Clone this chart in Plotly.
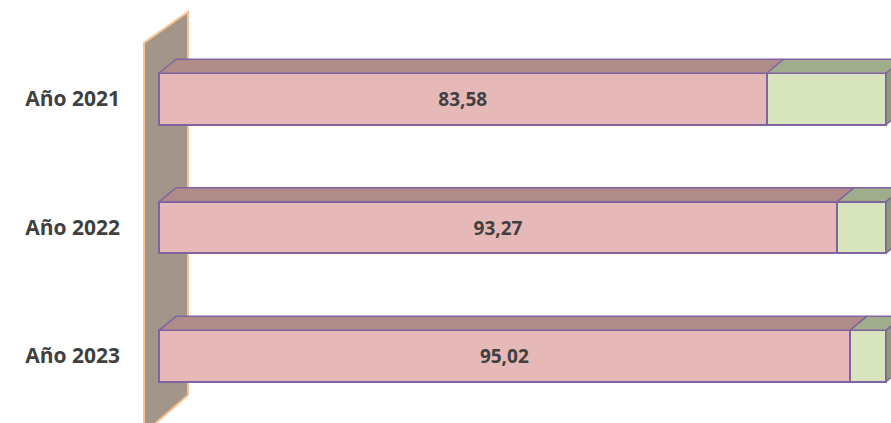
import plotly.graph_objects as go

# ---- data ----
categories = ["Año 2021", "Año 2022", "Año 2023"]
values_main = [83.58, 93.27, 95.02]
values_rest = [16.42, 6.73, 4.98]

# ---- style / geometry constants ----
PINK = "#E6B8B7"
PINK_TOP = "#B08C88"
GREEN = "#D7E4BD"
GREEN_TOP = "#A0AD8C"
GREEN_SIDE = "#8E9B7A"
EDGE = "#8064A2"
WALL = "#A29589"
WALL_EDGE = "#FAC090"
FONT = "Open Sans"
BAR_W = 0.40
DX = 2.34      # depth offset in x units
DY = -0.109    # depth offset in y units (upward)
XR = [-3.301, 100.688]
YR = [2.521, -0.770]

ypos = list(range(len(categories)))
fig = go.Figure()

# back wall (drawn below all traces)
wall_x = [-2.063, 3.989, 3.989, -2.063]
wall_y = [-0.436, -0.677, 2.304, 2.60]
path = "M " + " L ".join(f"{x},{y}" for x, y in zip(wall_x, wall_y)) + " Z"
fig.add_shape(type="path", path=path, xref="x", yref="y", layer="below",
              fillcolor=WALL, line=dict(color=WALL_EDGE, width=2))

# 3D top and side faces derived from values
for i, (a, b) in enumerate(zip(values_main, values_rest)):
    yt = ypos[i] - BAR_W / 2
    yb = ypos[i] + BAR_W / 2
    segs = [(0, a, PINK_TOP), (a, a + b, GREEN_TOP)]
    for x0, x1, col in segs:
        fig.add_trace(go.Scatter(
            x=[x0, x1, x1 + DX, x0 + DX, x0], y=[yt, yt, yt + DY, yt + DY, yt],
            mode="lines", fill="toself", fillcolor=col,
            line=dict(color=EDGE, width=1.5), hoverinfo="skip", showlegend=False))
    xe = a + b
    fig.add_trace(go.Scatter(
        x=[xe, xe + DX, xe + DX, xe, xe], y=[yt, yt + DY, yb + DY, yb, yt],
        mode="lines", fill="toself", fillcolor=GREEN_SIDE,
        line=dict(color=EDGE, width=1.5), hoverinfo="skip", showlegend=False))

labels = [f"{v:.2f}".replace(".", ",") for v in values_main]
fig.add_trace(go.Bar(y=ypos, x=values_main, orientation="h", width=BAR_W,
                     marker=dict(color=PINK, line=dict(color=EDGE, width=2)),
                     text=labels, textposition="inside", insidetextanchor="middle",
                     textfont=dict(family=FONT, size=19, color="#404040", weight="bold"),
                     hoverinfo="skip", showlegend=False))
fig.add_trace(go.Bar(y=ypos, x=values_rest, orientation="h", width=BAR_W,
                     marker=dict(color=GREEN, line=dict(color=EDGE, width=2)),
                     hoverinfo="skip", showlegend=False))

fig.update_layout(
    barmode="stack", width=891, height=423,
    margin=dict(l=135, r=0, t=0, b=0),
    plot_bgcolor="white", paper_bgcolor="white",
    xaxis=dict(range=XR, visible=False, fixedrange=True, automargin=False),
    yaxis=dict(range=YR, tickmode="array", tickvals=ypos, ticktext=categories,
               showgrid=False, zeroline=False, showline=False, ticks="",
               ticklabelstandoff=14, automargin=False, fixedrange=True,
               tickfont=dict(family=FONT, size=21, color="#404040", weight="bold")),
)
fig.write_html("out.html", config={"displayModeBar": False},
               post_script="document.body.style.margin='0';"
                           "document.body.style.overflow='hidden';")
